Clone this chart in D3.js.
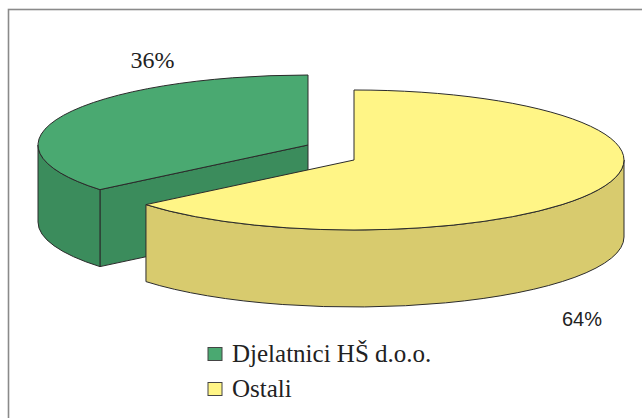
<!DOCTYPE html>
<html>
<head>
<meta charset="utf-8">
<script src="https://cdn.jsdelivr.net/npm/d3@7"></script>
<style>
  body { margin: 0; background: #fff; }
  svg { display: block; }
</style>
</head>
<body>
<svg id="chart" width="642" height="418"></svg>
<script>
// data
var categories = ["Djelatnici HŠ d.o.o.", "Ostali"];
var values = [36, 64];
var labels = ["36%", "64%"];

var width = 642,
    height = 418;

// pie geometry (3D look)
var rx = 270, ry = 70, depth = 77;
var base = { x: 331, y: 152.5 };
// explode offsets, one per slice
var offsets = [{ dx: -23, dy: -7.5 }, { dx: 23, dy: 7.5 }];

var topColor = d3.scaleOrdinal().domain(categories).range(["#4aa971", "#fff586"]),
    sideColor = d3.scaleOrdinal().domain(categories).range(["#3b8c5c", "#d8cb6e"]);

var svg = d3.select("#chart");

// frame
svg.append("rect")
    .attr("x", 8.5).attr("y", 9.5)
    .attr("width", 700).attr("height", 500)
    .attr("fill", "none")
    .attr("stroke", "#8a8a8a")
    .attr("stroke-width", 1.6);

var total = d3.sum(values);
var pie = d3.pie().sort(null)
    .startAngle(-2 * Math.PI * values[0] / total)
    .endAngle(2 * Math.PI - 2 * Math.PI * values[0] / total);

var arcs = pie(values);

function pt(c, a, dz) {
    return [c.x + rx * Math.sin(a), c.y - ry * Math.cos(a) + (dz || 0)];
}

function topPath(c, a0, a1) {
    var p0 = pt(c, a0), p1 = pt(c, a1);
    var large = (a1 - a0) > Math.PI ? 1 : 0;
    return "M" + c.x + "," + c.y + "L" + p0 + "A" + rx + "," + ry + " 0 " + large + " 1 " + p1 + "Z";
}

function sidePath(c, a0, a1) {
    // only the front half (pi/2 .. 3pi/2) can be seen
    var norm = function (a) { while (a < 0) a += 2 * Math.PI; return a; };
    var s = norm(a0), e = s + (a1 - a0);
    var lo = Math.max(s, Math.PI / 2), hi = Math.min(e, 3 * Math.PI / 2);
    if (hi <= lo) return null;
    var p0 = pt(c, lo), p1 = pt(c, hi), q1 = pt(c, hi, depth), q0 = pt(c, lo, depth);
    return "M" + p0 + "A" + rx + "," + ry + " 0 0 1 " + p1 +
        "L" + q1 + "A" + rx + "," + ry + " 0 0 0 " + q0 + "Z";
}

function facePath(c, a) {
    var p = pt(c, a);
    return "M" + c.x + "," + c.y + "L" + p + "L" + [p[0], p[1] + depth] + "L" + [c.x, c.y + depth] + "Z";
}

var slices = svg.selectAll("g.slice")
    .data(arcs)
  .enter().append("g")
    .attr("class", "slice");

slices.each(function (d, i) {
    var g = d3.select(this),
        c = { x: base.x + offsets[i].dx, y: base.y + offsets[i].dy },
        name = categories[i];

    // radial faces that face the viewer
    if (Math.sin(d.startAngle) < -1e-6) {
        g.append("path").attr("d", facePath(c, d.startAngle))
            .attr("fill", sideColor(name)).attr("stroke", "#2b2b2b").attr("stroke-width", 1);
    }
    if (Math.sin(d.endAngle) > 1e-6) {
        g.append("path").attr("d", facePath(c, d.endAngle))
            .attr("fill", sideColor(name)).attr("stroke", "#2b2b2b").attr("stroke-width", 1);
    }
    var sp = sidePath(c, d.startAngle, d.endAngle);
    if (sp) {
        g.append("path").attr("d", sp)
            .attr("fill", sideColor(name)).attr("stroke", "#2b2b2b").attr("stroke-width", 1);
    }
    g.append("path").attr("d", topPath(c, d.startAngle, d.endAngle))
        .attr("fill", topColor(name)).attr("stroke", "#2b2b2b").attr("stroke-width", 1);
});

// percentage labels
svg.append("text")
    .attr("x", 152.5).attr("y", 68)
    .attr("text-anchor", "middle")
    .style("font-family", "'Liberation Serif', 'Times New Roman', serif")
    .style("font-size", "24px")
    .attr("fill", "#222")
    .text(labels[0]);

svg.append("text")
    .attr("x", 582).attr("y", 326)
    .attr("text-anchor", "middle")
    .style("font-family", "'Liberation Sans', Arial, sans-serif")
    .style("font-size", "20px")
    .attr("fill", "#222")
    .text(labels[1]);

// legend
var legend = svg.selectAll("g.legend")
    .data(categories)
  .enter().append("g")
    .attr("class", "legend")
    .attr("transform", function (d, i) { return "translate(208," + (347.5 + i * 35) + ")"; });

legend.append("rect")
    .attr("width", 14).attr("height", 13)
    .attr("fill", function (d) { return topColor(d); })
    .attr("stroke", "#444")
    .attr("stroke-width", 1);

legend.append("text")
    .attr("x", 24).attr("y", 14.5)
    .style("font-family", "'Liberation Serif', 'Times New Roman', serif")
    .style("font-size", "25px")
    .attr("fill", "#222")
    .text(function (d) { return d; });
</script>
</body>
</html>
